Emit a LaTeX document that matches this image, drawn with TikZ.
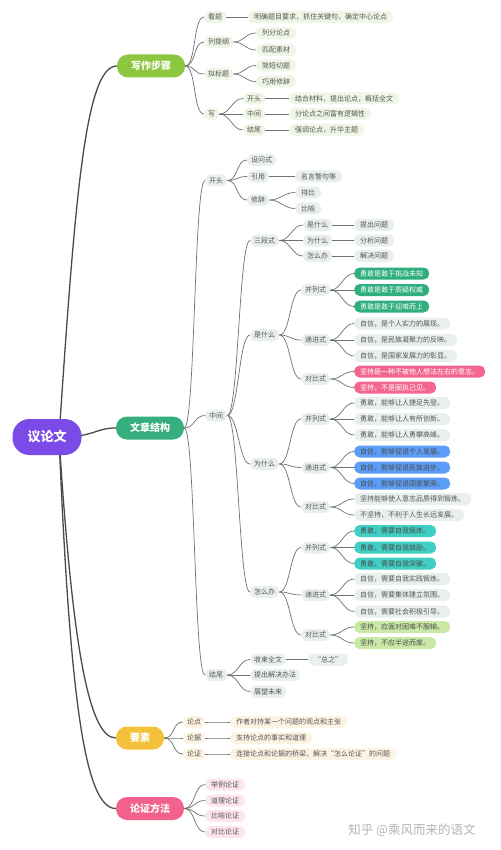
\documentclass[tikz,border=0pt]{standalone}
\usepackage{fontspec}
\setmainfont{Noto Sans CJK SC}
\usetikzlibrary{backgrounds}
\definecolor{rootc}{HTML}{7B4BE8}
\definecolor{stepc}{HTML}{8DC63F}
\definecolor{structc}{HTML}{37AE7E}
\definecolor{elemc}{HTML}{F3C13A}
\definecolor{methodc}{HTML}{F2628C}
\definecolor{stepbg}{HTML}{EFF6E6}
\definecolor{structbg}{HTML}{E9EFEC}
\definecolor{elembg}{HTML}{FDF3E3}
\definecolor{methodbg}{HTML}{FDE5EC}
\definecolor{greenbg}{HTML}{2FAE7E}
\definecolor{pinkbg}{HTML}{F3678F}
\definecolor{bluebg}{HTML}{5C9DF7}
\definecolor{tealbg}{HTML}{40CFC3}
\definecolor{limebg}{HTML}{CBE9A6}
\definecolor{textc}{HTML}{555555}
\definecolor{linec}{HTML}{707070}
\definecolor{trunkc}{HTML}{4A4A4A}
\definecolor{wmc}{HTML}{B5B5B5}
\newcommand{\conn}[2]{\draw[link] (#1.east) to (#2.west);}

\begin{document}
\begin{tikzpicture}[
    x=1pt, y=-1pt,
    main/.style={rounded corners=11pt, minimum height=23pt, inner xsep=14pt, text=white,
                 font=\fontsize{10}{12}\selectfont\bfseries},
    sub/.style={rounded corners=5.5pt, minimum height=12pt, inner xsep=4pt, inner ysep=0pt,
                anchor=west, text=textc, font=\fontsize{7}{8}\selectfont},
    leaf/.style={sub, inner xsep=6pt},
    wsub/.style={sub, fill=stepbg},
    wleaf/.style={leaf, fill=stepbg},
    ssub/.style={sub, fill=structbg},
    sleaf/.style={leaf, fill=structbg},
    esub/.style={sub, fill=elembg},
    eleaf/.style={leaf, fill=elembg},
    mleaf/.style={leaf, fill=methodbg},
    greenleaf/.style={leaf, fill=greenbg, text=white},
    pinkleaf/.style={leaf, fill=pinkbg, text=white},
    blueleaf/.style={leaf, fill=bluebg, text=black!70},
    tealleaf/.style={leaf, fill=tealbg, text=black!70},
    limeleaf/.style={leaf, fill=limebg, text=black!70},
    link/.style={draw=linec, line width=0.7pt,
                 to path={.. controls +(11,0) and +(-11,0) .. (\tikztotarget)}},
    trunk/.style={draw=trunkc, line width=1.3pt}
  ]
    \path[use as bounding box] (0,0) rectangle (500,850);

    % root and main branches
    \node[main, fill=rootc, minimum height=36pt, inner xsep=15pt, rounded corners=17pt,
          font=\fontsize{13}{15}\selectfont\bfseries] (root) at (47,437) {议论文};
    \node[main, fill=stepc]   (steps)  at (151,66)    {写作步骤};
    \node[main, fill=structc] (struct) at (150,428)   {文章结构};
    \node[main, fill=elemc]   (elem)   at (140,738)   {要素};
    \node[main, fill=methodc] (method) at (150,808.5) {论证方法};

    \begin{scope}[on background layer]
      \fill[white] (0,0) rectangle (500,850);
      \draw[trunk] ([xshift=12pt]root.center) .. controls (75,200) and (85,66) .. (steps.west);
      \draw[trunk] ([xshift=12pt]root.center) .. controls (95,437) and (95,428) .. (struct.west);
      \draw[trunk] ([xshift=12pt]root.center) .. controls (72,640) and (88,738) .. (elem.west);
      \draw[trunk] ([xshift=12pt]root.center) .. controls (70,700) and (85,808.5) .. (method.west);
    \end{scope}

    % writing steps
    \node[wsub] (kanti)  at (204,17)  {看题};
    \node[wsub] (tigang) at (204,42)  {列提纲};
    \node[wsub] (nibiao) at (204,74)  {拟标题};
    \node[wsub] (xie)    at (204,114) {写};
    \node[wleaf] (kanti1)  at (248,17)   {明确题目要求，抓住关键句，确定中心论点};
    \node[wleaf] (tigang1) at (256,33)   {列分论点};
    \node[wleaf] (tigang2) at (256,50)   {匹配素材};
    \node[wleaf] (nibiao1) at (256,65.5) {简短切题};
    \node[wleaf] (nibiao2) at (256,81.5) {巧用修辞};
    \node[wsub] (xkt) at (243,98.5) {开头};
    \node[wsub] (xzj) at (243,114)  {中间};
    \node[wsub] (xjw) at (243,130)  {结尾};
    \node[wleaf] (xkt1) at (289,98.5) {结合材料，提出论点，概括全文};
    \node[wleaf] (xzj1) at (289,114)  {分论点之间富有逻辑性};
    \node[wleaf] (xjw1) at (289,130)  {强调论点，升华主题};

    \conn{steps}{kanti} \conn{steps}{tigang} \conn{steps}{nibiao} \conn{steps}{xie}
    \conn{kanti}{kanti1}
    \conn{tigang}{tigang1} \conn{tigang}{tigang2}
    \conn{nibiao}{nibiao1} \conn{nibiao}{nibiao2}
    \conn{xie}{xkt} \conn{xie}{xzj} \conn{xie}{xjw}
    \conn{xkt}{xkt1} \conn{xzj}{xzj1} \conn{xjw}{xjw1}

    % structure: opening
    \node[ssub] (skt) at (205,180.5) {开头};
    \node[ssub] (szj) at (205,415.5) {中间};
    \node[ssub] (sjw) at (205,675)   {结尾};
    \node[ssub] (sws) at (247,160)   {设问式};
    \node[ssub] (syy) at (247,176.5) {引用};
    \node[ssub] (sxc) at (247,200)   {修辞};
    \node[sleaf] (syy1) at (295,176.5) {名言警句等};
    \node[sleaf] (sxc1) at (295,192.5) {排比};
    \node[sleaf] (sxc2) at (295,208.5) {比喻};

    \conn{struct}{skt} \conn{struct}{szj} \conn{struct}{sjw}
    \conn{skt}{sws} \conn{skt}{syy} \conn{skt}{sxc}
    \conn{syy}{syy1} \conn{sxc}{sxc1} \conn{sxc}{sxc2}

    % structure: middle
    \node[ssub] (sd)  at (250,240.5) {三段式};
    \node[ssub] (shi) at (250,335)   {是什么};
    \node[ssub] (wei) at (250,464)   {为什么};
    \node[ssub] (zen) at (250,592)   {怎么办};
    \node[ssub] (sd1) at (303,225)   {是什么};
    \node[ssub] (sd2) at (303,240.5) {为什么};
    \node[ssub] (sd3) at (303,256)   {怎么办};
    \node[sleaf] (sd1a) at (354,225)   {提出问题};
    \node[sleaf] (sd2a) at (354,240.5) {分析问题};
    \node[sleaf] (sd3a) at (354,256)   {解决问题};

    \conn{szj}{sd} \conn{szj}{shi} \conn{szj}{wei} \conn{szj}{zen}
    \conn{sd}{sd1} \conn{sd}{sd2} \conn{sd}{sd3}
    \conn{sd1}{sd1a} \conn{sd2}{sd2a} \conn{sd3}{sd3a}

    \node[ssub] (shibl) at (301,290) {并列式};
    \node[ssub] (shidj) at (301,340) {递进式};
    \node[ssub] (shidb) at (301,379) {对比式};
    \node[greenleaf] (shibl1) at (354,273.5) {勇敢是敢于挑战未知};
    \node[greenleaf] (shibl2) at (354,290)   {勇敢是敢于质疑权威};
    \node[greenleaf] (shibl3) at (354,306.5) {勇敢是敢于迎难而上};
    \node[sleaf] (shidj1) at (354,323.5) {自信，是个人实力的展现。};
    \node[sleaf] (shidj2) at (354,340)   {自信，是民族凝聚力的反映。};
    \node[sleaf] (shidj3) at (354,356)   {自信，是国家发展力的彰显。};
    \node[pinkleaf] (shidb1) at (354,371.5) {坚持是一种不被他人想法左右的意志。};
    \node[pinkleaf] (shidb2) at (354,387.5) {坚持，不是固执己见。};

    \conn{shi}{shibl} \conn{shi}{shidj} \conn{shi}{shidb}
    \conn{shibl}{shibl1} \conn{shibl}{shibl2} \conn{shibl}{shibl3}
    \conn{shidj}{shidj1} \conn{shidj}{shidj2} \conn{shidj}{shidj3}
    \conn{shidb}{shidb1} \conn{shidb}{shidb2}

    \node[ssub] (weibl) at (301,419)   {并列式};
    \node[ssub] (weidj) at (301,467.5) {递进式};
    \node[ssub] (weidb) at (301,507)   {对比式};
    \node[sleaf] (weibl1) at (354,403) {勇敢，能够让人捷足先登。};
    \node[sleaf] (weibl2) at (354,419) {勇敢，能够让人有所创新。};
    \node[sleaf] (weibl3) at (354,435) {勇敢，能够让人勇攀高峰。};
    \node[blueleaf] (weidj1) at (354,451.5) {自信，能够促进个人发展。};
    \node[blueleaf] (weidj2) at (354,467.5) {自信，能够促进民族进步。};
    \node[blueleaf] (weidj3) at (354,483.5) {自信，能够促进国家繁荣。};
    \node[sleaf] (weidb1) at (354,499) {坚持能够使人意志品质得到锻炼。};
    \node[sleaf] (weidb2) at (354,515) {不坚持，不利于人生长远发展。};

    \conn{wei}{weibl} \conn{wei}{weidj} \conn{wei}{weidb}
    \conn{weibl}{weibl1} \conn{weibl}{weibl2} \conn{weibl}{weibl3}
    \conn{weidj}{weidj1} \conn{weidj}{weidj2} \conn{weidj}{weidj3}
    \conn{weidb}{weidb1} \conn{weidb}{weidb2}

    \node[ssub] (zenbl) at (301,547.5) {并列式};
    \node[ssub] (zendj) at (301,595)   {递进式};
    \node[ssub] (zendb) at (301,635)   {对比式};
    \node[tealleaf] (zenbl1) at (354,531)   {勇敢，需要自我锻炼。};
    \node[tealleaf] (zenbl2) at (354,547.5) {勇敢，需要自我鼓励。};
    \node[tealleaf] (zenbl3) at (354,563.5) {勇敢，需要自我突破。};
    \node[sleaf] (zendj1) at (354,579)   {自信，需要自我实践锻炼。};
    \node[sleaf] (zendj2) at (354,595)   {自信，需要集体建立氛围。};
    \node[sleaf] (zendj3) at (354,611.5) {自信，需要社会积极引导。};
    \node[limeleaf] (zendb1) at (354,627) {坚持，应面对困难不服输。};
    \node[limeleaf] (zendb2) at (354,643) {坚持，不应半途而废。};

    \conn{zen}{zenbl} \conn{zen}{zendj} \conn{zen}{zendb}
    \conn{zenbl}{zenbl1} \conn{zenbl}{zenbl2} \conn{zenbl}{zenbl3}
    \conn{zendj}{zendj1} \conn{zendj}{zendj2} \conn{zendj}{zendj3}
    \conn{zendb}{zendb1} \conn{zendb}{zendb2}

    % structure: ending
    \node[ssub] (jw1) at (250,659.5) {收束全文};
    \node[ssub] (jw2) at (250,675)   {提出解决办法};
    \node[ssub] (jw3) at (250,691.5) {展望未来};
    \node[sleaf] (jw1a) at (308,659.5) {“总之”};

    \conn{sjw}{jw1} \conn{sjw}{jw2} \conn{sjw}{jw3}
    \conn{jw1}{jw1a}

    % elements
    \node[esub] (ld) at (183,722) {论点};
    \node[esub] (lj) at (183,738) {论据};
    \node[esub] (lz) at (183,754) {论证};
    \node[eleaf] (ld1) at (230,722) {作者对持某一个问题的观点和主张};
    \node[eleaf] (lj1) at (230,738) {支持论点的事实和道理};
    \node[eleaf] (lz1) at (230,754) {连接论点和论据的桥梁，解决“怎么论证”的问题};

    \conn{elem}{ld} \conn{elem}{lj} \conn{elem}{lz}
    \conn{ld}{ld1} \conn{lj}{lj1} \conn{lz}{lz1}

    % methods
    \node[mleaf] (fa1) at (205,784.5) {举例论证};
    \node[mleaf] (fa2) at (205,800.5) {道理论证};
    \node[mleaf] (fa3) at (205,816)   {比喻论证};
    \node[mleaf] (fa4) at (205,832)   {对比论证};

    \conn{method}{fa1} \conn{method}{fa2} \conn{method}{fa3} \conn{method}{fa4}

    \node[text=wmc, font=\fontsize{12.5}{14}\selectfont] (mark) at (412,830) {知乎 @乘风而来的语文};
  \end{tikzpicture}
\end{document}
